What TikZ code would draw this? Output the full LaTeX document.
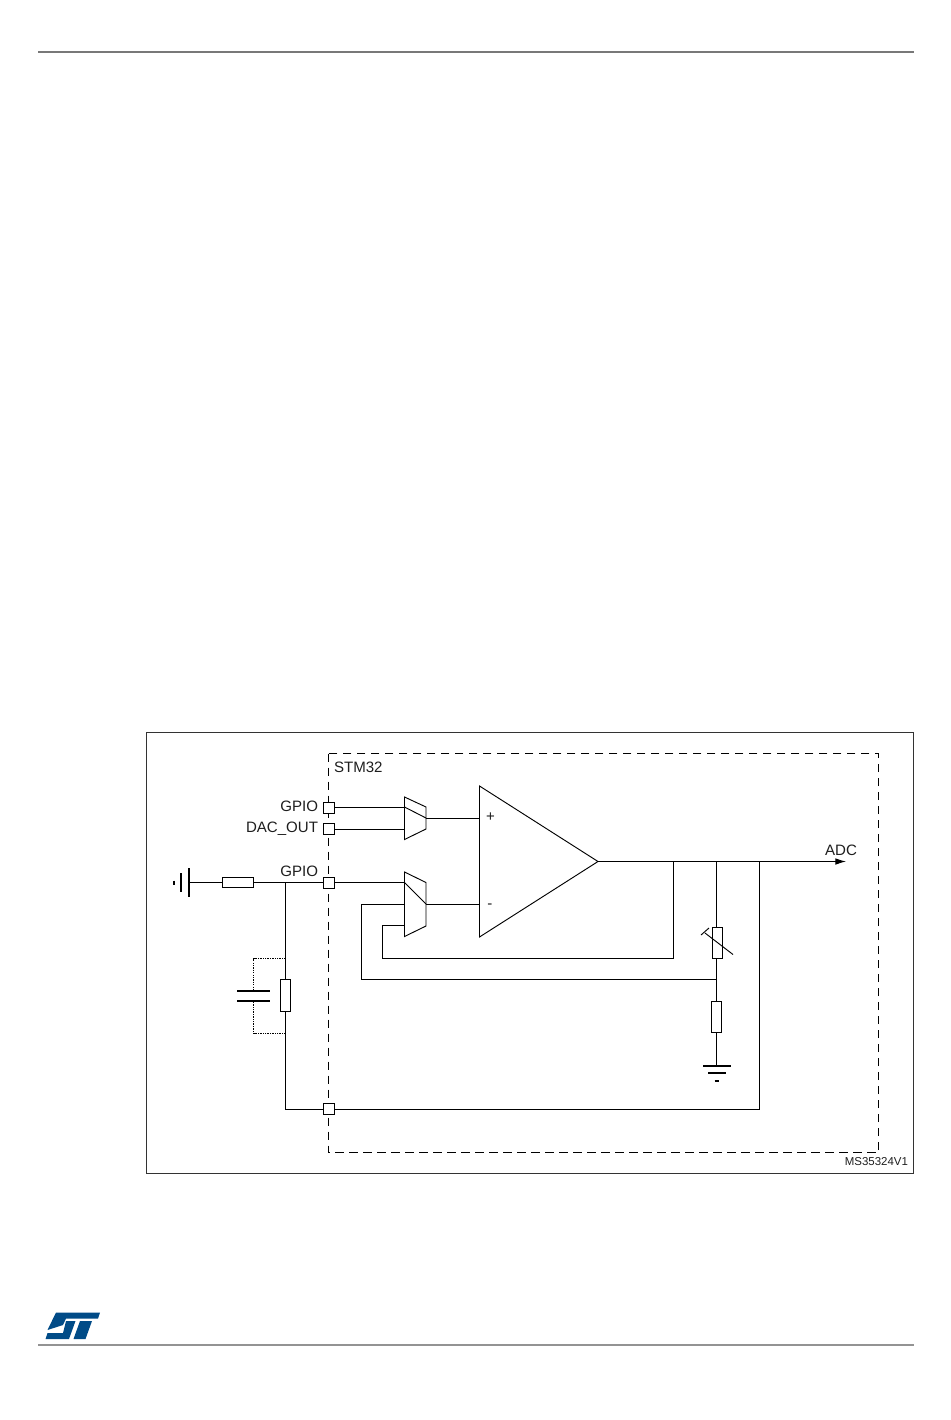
\documentclass[tikz,border=0pt]{standalone}
\usepackage{fontspec}
\setmainfont{Liberation Sans}
\usetikzlibrary{arrows.meta}
\definecolor{stlogo}{RGB}{0,75,135}
\definecolor{rulegray}{RGB}{120,120,120}
\definecolor{labelc}{RGB}{30,30,30}
\tikzset{
  wire/.style={draw=black,line width=0.75pt},
  thinwire/.style={draw=black,line width=0.7pt},
  pad/.style={draw=black,fill=white,line width=0.7pt,minimum width=8.2pt,minimum height=8.2pt,inner sep=0pt,outer sep=0pt},
  res/.style={draw=black,fill=white,line width=0.7pt,inner sep=0pt,outer sep=0pt},
  resv/.style={res,minimum width=7.8pt,minimum height=23.4pt},
  resh/.style={res,minimum width=23.4pt,minimum height=7.8pt},
  lbl/.style={font=\fontsize{11.3pt}{13pt}\selectfont,text=labelc,inner sep=0pt,outer sep=0pt},
  plate/.style={draw=black,line width=1.5pt},
  dot/.style={draw=black,line width=0.6pt,dash pattern=on 1pt off 0.8pt},
}
\begin{document}
\begin{tikzpicture}[x=0.75pt,y=-0.75pt]
\useasboundingbox (0,0) rectangle (950,1420);
% page rules
\coordinate (rt1) at (38,52); \coordinate (rt2) at (914,52);
\draw[draw=rulegray,line width=0.8pt] (rt1) -- (rt2);
\coordinate (rb1) at (38,1345); \coordinate (rb2) at (914,1345);
\draw[draw=rulegray!80,line width=1pt] (rb1) -- (rb2);
% frame
\draw[draw=black!80,line width=0.75pt] (146,732.5) rectangle (913.5,1173);
\draw[draw=black,line width=0.6pt,dash pattern=on 6.5pt off 4pt] (328,753.5) rectangle (878.7,1152.5);
% op amp
\coordinate (oa1) at (479.5,786); \coordinate (oa2) at (479.5,937); \coordinate (oaout) at (598,861.5);
\draw[thinwire] (oa1) -- (oaout) -- (oa2) -- cycle;
\node[lbl] (oaplus) at (490.5,817.5) {+};
\node[lbl] (oaminus) at (490,906) {-};
% top mux
\draw[thinwire] (404.5,797) -- (426,807) -- (426,829) -- (404.5,839.5) -- cycle;
\draw[thinwire] (404.5,807) -- (426,818);
% bottom mux
\draw[thinwire] (404.5,872) -- (426,882.5) -- (426,926) -- (404.5,936.5) -- cycle;
\draw[thinwire] (404.5,882.5) -- (426,904);
% pads
\node[pad] (p1) at (329,807.5) {};
\node[pad] (p2) at (329,829) {};
\node[pad] (p3) at (329,882.5) {};
\node[pad] (p4) at (329,1109) {};
\node[lbl,anchor=east] (l1) at (318,806.5) {GPIO};
\node[lbl,anchor=east] (l2) at (318,828.5) {DAC\_OUT};
\node[lbl,anchor=east] (l3) at (318,871.5) {GPIO};
\node[lbl,anchor=west] (l4) at (334,767.5) {STM32};
\node[lbl] (l5) at (841,850.5) {ADC};
\node[lbl,font=\fontsize{8.6pt}{10pt}\selectfont,anchor=east] (l6) at (908,1161.5) {MS35324V1};
% wires
\coordinate (m1a) at (404.5,807.5); \coordinate (m1b) at (404.5,829);
\coordinate (m1o) at (426,818); \coordinate (oap) at (479.5,818);
\coordinate (m2a) at (404.5,882.5); \coordinate (m2b) at (404.5,904.5); \coordinate (m2c) at (404.5,925.5);
\coordinate (m2o) at (426,904.5); \coordinate (oam) at (479.5,904.5);
\draw[wire] (p1) -- (m1a);
\draw[wire] (p2) -- (m1b);
\draw[wire] (m1o) -- (oap);
\draw[wire] (p3) -- (m2a);
\draw[wire] (m2o) -- (oam);
% output
\coordinate (adc) at (846,861.5);
\draw[wire,-{Latex[length=8pt,width=5pt]}] (oaout) -- (adc);
\coordinate (t1) at (673.5,861.5);
\coordinate (t2) at (716.5,861.5);
\coordinate (t3) at (759.5,861.5);
\draw[wire] (t1) -- (673.5,958.5) -- (382.5,958.5) -- (382.5,925.5) -- (m2c);
\draw[wire] (t3) -- (759.5,1109) -- (p4);
\coordinate (j1) at (717,979.5);
\draw[wire] (j1) -- (361.5,979.5) -- (361.5,904.5) -- (m2b);
% vertical divider
\coordinate (gt) at (716.5,1065.5);
\draw[wire] (t2) -- (gt);
\node[resv] (rv) at (717.2,943) {};
\node[resv] (r2) at (716.5,1017) {};
\draw[thinwire] (733,954.5) -- (705,933);
\draw[thinwire] (701,935) -- (709,928);
% ground
\coordinate (g1a) at (703,1065.5); \coordinate (g1b) at (731,1065.5);
\coordinate (g2a) at (708,1073); \coordinate (g2b) at (726,1073);
\coordinate (g3a) at (714.5,1080.5); \coordinate (g3b) at (719,1080.5);
\draw[plate] (g1a) -- (g1b);
\draw[plate] (g2a) -- (g2b);
\draw[plate] (g3a) -- (g3b);
% left source
\coordinate (s1a) at (189,868); \coordinate (s1b) at (189,897);
\coordinate (s2a) at (181,873); \coordinate (s2b) at (181,892);
\coordinate (s3a) at (174,880.5); \coordinate (s3b) at (174,884.5);
\draw[plate] (s1a) -- (s1b);
\draw[plate] (s2a) -- (s2b);
\draw[plate] (s3a) -- (s3b);
\coordinate (s0) at (189,882.5);
\draw[wire] (s0) -- (p3);
\node[resh] (rh) at (238,882.5) {};
\coordinate (t4) at (285.5,882.5);
\draw[wire] (t4) -- (285.5,1109) -- (p4);
\node[resv] (r3) at (285.5,995.5) {};
% capacitor
\coordinate (dt) at (285.5,958.5); \coordinate (db) at (285.5,1033.5);
\coordinate (ct) at (253.5,990.5); \coordinate (cb) at (253.5,1000.5);
\draw[dot] (dt) -- (253.5,958.5) -- (ct);
\draw[dot] (db) -- (253.5,1033.5) -- (cb);
\draw[plate] (237,990.5) -- (270,990.5);
\draw[plate] (237,1000.5) -- (270,1000.5);
% logo
\fill[stlogo] (56,1312.5) -- (100,1312.5) -- (98,1318.5) -- (66,1318.5) -- (63,1325) -- (47.5,1330) -- cycle;
\fill[stlogo] (66,1321) -- (75.5,1321) -- (69,1339) -- (45.5,1339) -- (47.5,1333) -- (63,1333) -- cycle;
\fill[stlogo] (80,1321) -- (92,1321) -- (85.5,1339) -- (73.5,1339) -- cycle;
\end{tikzpicture}
\end{document}
